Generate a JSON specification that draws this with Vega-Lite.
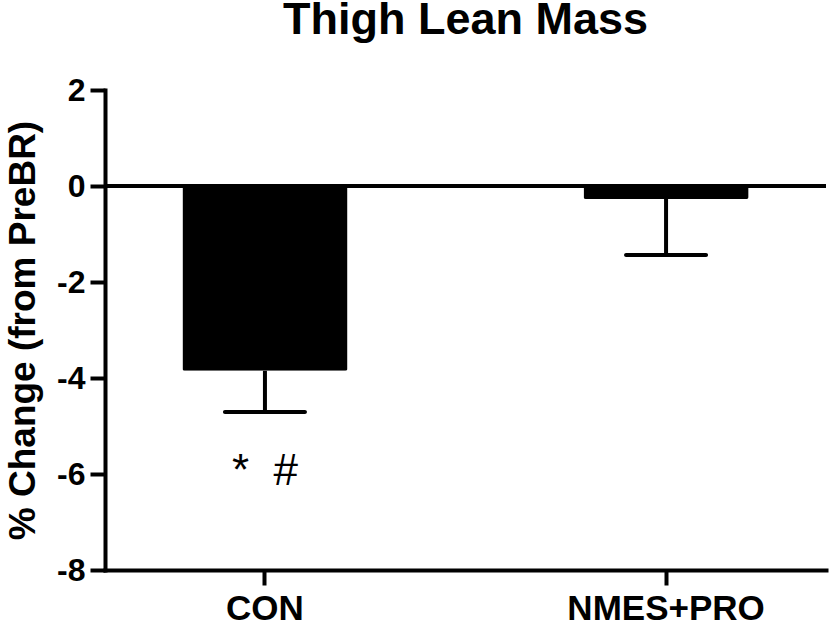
{
  "$schema": "https://vega.github.io/schema/vega-lite/v6.json",
  "width": 721,
  "height": 480,
  "autosize": "none",
  "padding": {"left": 105, "top": 90, "right": 3, "bottom": 52},
  "background": "white",
  "title": {
    "text": "Thigh Lean Mass",
    "font": "Liberation Sans",
    "fontSize": 45,
    "fontWeight": "bold",
    "color": "black",
    "frame": "group",
    "anchor": "middle",
    "baseline": "alphabetic",
    "offset": -5
  },
  "config": {
    "view": {"stroke": null},
    "axis": {
      "grid": false,
      "domainColor": "black",
      "domainWidth": 4,
      "tickColor": "black",
      "tickWidth": 4,
      "tickSize": 15,
      "labelColor": "black",
      "labelFont": "Liberation Sans",
      "labelFontWeight": "bold",
      "labelLimit": 0,
      "titleFont": "Liberation Sans",
      "titleFontWeight": "bold",
      "titleColor": "black",
      "domainCap": "square"
    }
  },
  "datasets": {
    "bars": [
      {"group": "CON", "mean": -3.85, "err": -4.71},
      {"group": "NMES+PRO", "mean": -0.27, "err": -1.44}
    ],
    "notes": [
      {"group": "CON", "label": "*\u00a0\u00a0#", "y": -5.95}
    ]
  },
  "layer": [
    {
      "data": {"name": "bars"},
      "mark": {"type": "bar", "color": "black", "cornerRadius": 2, "opacity": 1},
      "encoding": {
        "x": {
          "field": "group",
          "type": "nominal",
          "sort": ["CON", "NMES+PRO"],
          "scale": {"paddingInner": 0.5885, "paddingOuter": 0.193},
          "axis": {"title": null, "labelAngle": 0, "labelFontSize": 35, "labelPadding": 6}
        },
        "y": {
          "field": "mean",
          "type": "quantitative",
          "scale": {"domain": [-8, 2], "nice": false},
          "axis": {
            "values": [-8, -6, -4, -2, 0, 2],
            "labelExpr": "'' + datum.value",
            "title": "% Change (from PreBR)",
            "titleFontSize": 37,
            "titleX": -71,
            "titleY": 240,
            "titleBaseline": "alphabetic",
            "titleAngle": -90,
            "titleAlign": "center",
            "labelFontSize": 32,
            "labelPadding": 5
          }
        }
      }
    },
    {
      "data": {"name": "bars"},
      "mark": {"type": "rule", "color": "black", "strokeWidth": 4, "opacity": 1},
      "encoding": {
        "x": {"field": "group", "type": "nominal", "sort": ["CON", "NMES+PRO"]},
        "y": {"field": "mean", "type": "quantitative"},
        "y2": {"field": "err"}
      }
    },
    {
      "data": {"name": "bars"},
      "mark": {"type": "tick", "color": "black", "size": 84, "thickness": 4, "orient": "horizontal", "cornerRadius": 2, "opacity": 1},
      "encoding": {
        "x": {"field": "group", "type": "nominal", "sort": ["CON", "NMES+PRO"]},
        "y": {"field": "err", "type": "quantitative"}
      }
    },
    {
      "data": {"values": [{"zero": 0}]},
      "mark": {"type": "rule", "color": "black", "strokeWidth": 4, "opacity": 1},
      "encoding": {
        "y": {"field": "zero", "type": "quantitative"}
      }
    },
    {
      "data": {"name": "notes"},
      "mark": {"type": "text", "font": "Liberation Sans", "fontSize": 44, "color": "black", "baseline": "middle", "align": "center"},
      "encoding": {
        "x": {"field": "group", "type": "nominal", "sort": ["CON", "NMES+PRO"]},
        "y": {"field": "y", "type": "quantitative"},
        "text": {"field": "label"}
      }
    }
  ]
}
